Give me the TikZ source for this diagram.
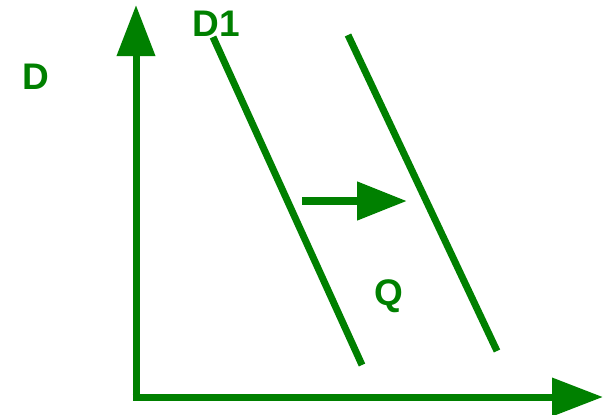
\documentclass[tikz,border=0pt]{standalone}
\usepackage{fontspec}
\setmainfont{Liberation Sans}
\usetikzlibrary{arrows.meta, positioning}
\definecolor{demandgreen}{RGB}{0,128,0}
\tikzset{
  axis/.style={demandgreen, line width=7pt, -{Triangle[length=51pt, width=37pt]}},
  curve/.style={demandgreen, line width=7pt},
  lbl/.style={demandgreen, font=\fontsize{37}{40}\selectfont\bfseries, inner sep=0pt}
}
\begin{document}
\begin{tikzpicture}[x=1pt, y=-1pt]
  \useasboundingbox (0,0) rectangle (611,415);
  % axes
  \coordinate (origin) at (136,397);
  \coordinate (ytop) at (136,5);
  \coordinate (xend) at (603,397);
  \draw[axis] ([yshift=-3.5pt]origin) -- (ytop);
  \draw[axis] ([xshift=-3.5pt]origin) -- (xend);
  % demand curves
  \coordinate (d1top) at (213,37);
  \coordinate (d1bot) at (362,365);
  \coordinate (d2top) at (348,35);
  \coordinate (d2bot) at (497,351);
  \draw[curve] (d1top) -- (d1bot);
  \draw[curve] (d2top) -- (d2bot);
  % shift
  \coordinate (shiftfrom) at (302,201);
  \coordinate (shiftto) at (407,201);
  \draw[demandgreen, line width=8pt, -{Triangle[length=50pt, width=37pt]}] (shiftfrom) -- (shiftto);
  % labels
  \node[lbl] (dlabel) at (36,77) {D};
  \node[lbl] (d1label) at (216,24) {D1};
  \node[lbl] (qlabel) at (389,296) {Q};
\end{tikzpicture}
\end{document}
